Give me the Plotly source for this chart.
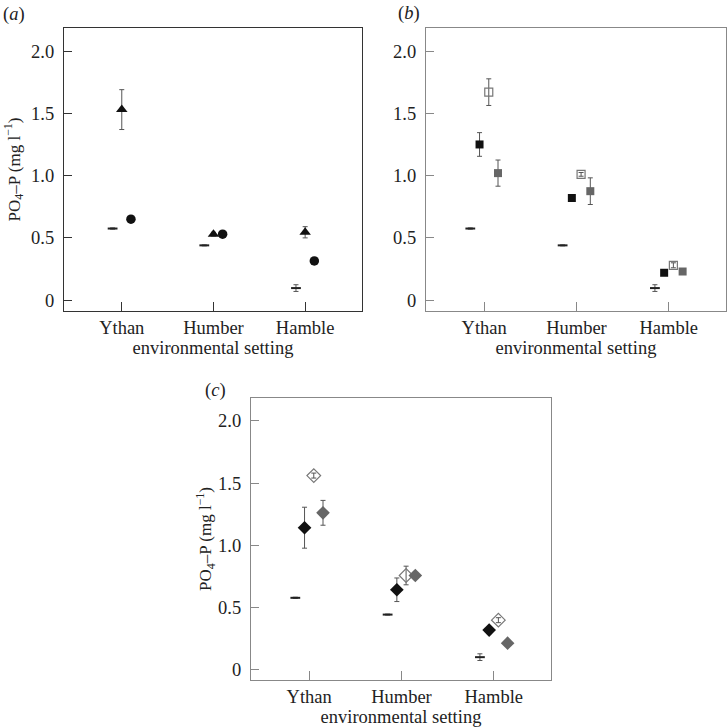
import plotly.graph_objects as go

categories = ["Ythan", "Humber", "Hamble"]
tick_vals_y = [0, 0.5, 1.0, 1.5, 2.0]
tick_text_y = ["0", "0.5", "1.0", "1.5", "2.0"]

# control (same in all panels)
control = [0.575, 0.44, 0.097]
control_err = [0.005, 0.004, 0.027]

# panel (a)
a_triangle = [1.53, 0.53, 0.545]
a_triangle_err = [0.16, 0.015, 0.045]
a_circle = [0.65, 0.53, 0.315]
a_circle_err = [0.01, 0.01, 0.01]

# panel (b)
b_black = [1.25, 0.82, 0.22]
b_black_err = [0.095, 0.02, 0.01]
b_open = [1.67, 1.01, 0.28]
b_open_err = [0.107, 0.015, 0.02]
b_grey = [1.02, 0.875, 0.23]
b_grey_err = [0.105, 0.107, 0.02]

# panel (c)
c_black = [1.14, 0.64, 0.315]
c_black_err = [0.165, 0.095, 0.01]
c_open = [1.56, 0.755, 0.395]
c_open_err = [0.02, 0.075, 0.02]
c_grey = [1.26, 0.755, 0.21]
c_grey_err = [0.10, 0.02, 0.01]

FONT = "Liberation Serif"
FS = 18.5
TXT = "#222222"
ERRC = "#555555"

fig = go.Figure()


def add(xa, ya, offset, vals, errs, symbol, size, color, line_color=None, line_w=0):
    xs = [i + offset for i in range(len(vals))]
    fig.add_trace(go.Scatter(
        x=xs, y=vals, mode="markers", xaxis=xa, yaxis=ya, showlegend=False,
        marker=dict(symbol=symbol, size=size, color=color,
                    line=dict(color=line_color or color, width=line_w)),
        error_y=dict(type="data", array=errs, visible=True, color=ERRC,
                     thickness=1, width=2.5),
    ))


def add_control(xa, ya, offset):
    xs = [i + offset for i in range(len(control))]
    fig.add_trace(go.Scatter(
        x=xs, y=control, mode="markers", xaxis=xa, yaxis=ya, showlegend=False,
        marker=dict(symbol="line-ew", size=7, color="#222",
                    line=dict(color="#222", width=2)),
        error_y=dict(type="data", array=control_err, visible=True, color=ERRC,
                     thickness=1, width=2.5),
    ))


# (a)
add_control("x", "y", -0.1)
add("x", "y", 0.0, a_triangle, a_triangle_err, "triangle-up", 10, "#111")
add("x", "y", 0.1, a_circle, a_circle_err, "circle", 9.5, "#111")

# (b)
add_control("x2", "y2", -0.15)
add("x2", "y2", -0.05, b_black, b_black_err, "square", 8, "#111")
add("x2", "y2", 0.05, b_open, b_open_err, "square-open", 8, "#777", "#777", 1.2)
add("x2", "y2", 0.15, b_grey, b_grey_err, "square", 8, "#666")

# (c)
add_control("x3", "y3", -0.15)
add("x3", "y3", -0.05, c_black, c_black_err, "diamond", 10.5, "#111")
add("x3", "y3", 0.05, c_open, c_open_err, "diamond-open", 10.5, "#777", "#777", 1.2)
add("x3", "y3", 0.15, c_grey, c_grey_err, "diamond", 10.5, "#666")

W, H = 728, 727


def xdom(l, r):
    return [l / W, r / W]


def ydom(t, b):
    return [1 - b / H, 1 - t / H]


def xaxis(dom, anchor, frame_col):
    return dict(domain=dom, anchor=anchor, range=[-0.63, 2.62], automargin=False,
                tickvals=[0, 1, 2], ticktext=categories,
                ticks="inside", ticklen=9, tickwidth=1, tickcolor=frame_col,
                showline=True, linecolor=frame_col, linewidth=1.3, mirror=True,
                showgrid=False, zeroline=False,
                tickfont=dict(family=FONT, size=FS, color=TXT),
                title=dict(text="environmental setting", standoff=2,
                           font=dict(family=FONT, size=FS, color=TXT)))


def yaxis(dom, anchor, frame_col, title_standoff=None):
    d = dict(domain=dom, anchor=anchor, range=[-0.087, 2.185], automargin=False,
             tickvals=tick_vals_y, ticktext=tick_text_y,
             ticks="inside", ticklen=8, tickwidth=1, tickcolor=frame_col,
             ticklabelstandoff=5,
             showline=True, linecolor=frame_col, linewidth=1.3, mirror=True,
             showgrid=False, zeroline=False,
             tickfont=dict(family=FONT, size=FS, color=TXT))
    if title_standoff is not None:
        d["title"] = dict(text="PO<sub>4</sub>–P (mg l<sup>−1</sup>)",
                          standoff=title_standoff,
                          font=dict(family=FONT, size=17, color=TXT))
    return d


fig.update_layout(
    width=W, height=H, margin=dict(l=0, r=0, t=0, b=0),
    plot_bgcolor="white", paper_bgcolor="white",
    xaxis=xaxis(xdom(64, 362), "y", "#333"),
    yaxis=yaxis(ydom(28, 311), "x", "#333", 6),
    xaxis2=xaxis(xdom(426, 726), "y2", "#888"),
    yaxis2=yaxis(ydom(28, 311), "x2", "#888", None),
    xaxis3=xaxis(xdom(251, 551), "y3", "#888"),
    yaxis3=yaxis(ydom(398, 680), "x3", "#888", 0),
    annotations=[
        dict(text="(<i>a</i>)", x=1 / W, y=1 - 15 / H, xref="paper", yref="paper",
             xanchor="left", yanchor="middle", showarrow=False,
             font=dict(family=FONT, size=FS, color=TXT)),
        dict(text="(<i>b</i>)", x=396 / W, y=1 - 14 / H, xref="paper", yref="paper",
             xanchor="left", yanchor="middle", showarrow=False,
             font=dict(family=FONT, size=FS, color=TXT)),
        dict(text="(<i>c</i>)", x=203 / W, y=1 - 390 / H, xref="paper", yref="paper",
             xanchor="left", yanchor="middle", showarrow=False,
             font=dict(family=FONT, size=FS, color=TXT)),
    ],
)

fig.write_html("out.html", config={"displayModeBar": False},
               post_script="document.body.style.margin='0px';document.body.style.overflow='hidden';")
